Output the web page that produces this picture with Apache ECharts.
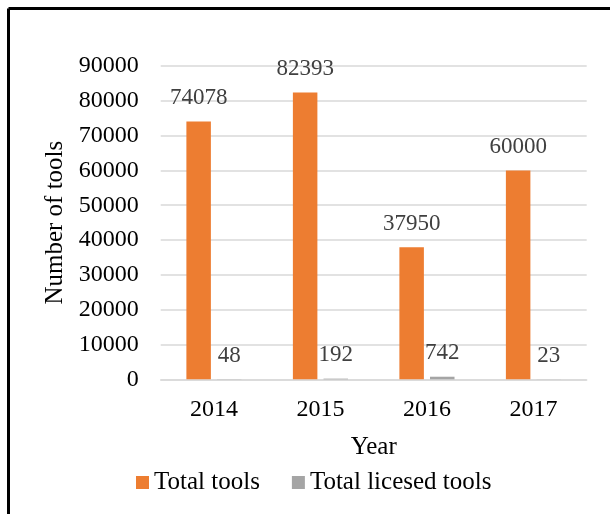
<!DOCTYPE html>
<html>
<head>
<meta charset="utf-8">
<script src="https://cdn.jsdelivr.net/npm/echarts@6/dist/echarts.min.js"></script>
<style>
html,body{margin:0;padding:0;background:#fff;}
#chart{width:610px;height:514px;}
</style>
</head>
<body>
<div id="chart"></div>
<script>
const categories = ['2014', '2015', '2016', '2017'];
const totalTools = [74078, 82393, 37950, 60000];
const totalLicensedTools = [48, 192, 742, 23];
const seriesNames = ['Total tools', 'Total licesed tools'];
const yTicks = { min: 0, max: 90000, interval: 10000 };

const FONT = '"Liberation Serif", "Times New Roman", serif';
const chart = echarts.init(document.getElementById('chart'), null, { renderer: 'canvas' });

const labelStyle = {
  show: true,
  position: 'top',
  distance: 12,
  fontFamily: FONT,
  fontSize: 23,
  color: '#404040'
};

chart.setOption({
  animation: false,
  backgroundColor: '#fff',
  grid: { left: 160.7, right: 23.3, top: 66, bottom: 134.7 },
  legend: {
    left: 136,
    top: 470,
    padding: 0,
    itemWidth: 13,
    itemHeight: 13,
    itemGap: 32,
    icon: 'rect',
    textStyle: { fontFamily: FONT, fontSize: 25, color: '#000' },
    data: seriesNames
  },
  xAxis: {
    type: 'category',
    data: categories,
    name: 'Year',
    nameLocation: 'middle',
    nameGap: 56,
    nameTextStyle: { fontFamily: FONT, fontSize: 25, color: '#000' },
    axisLine: { show: true, lineStyle: { color: '#d9d9d9', width: 1.5 } },
    axisTick: { show: false },
    axisLabel: { fontFamily: FONT, fontSize: 24, color: '#000', margin: 18 }
  },
  yAxis: {
    type: 'value',
    min: yTicks.min,
    max: yTicks.max,
    interval: yTicks.interval,
    name: 'Number of tools',
    nameLocation: 'middle',
    nameGap: 90,
    nameRotate: 90,
    nameTextStyle: { fontFamily: FONT, fontSize: 25, color: '#000' },
    axisLine: { show: false },
    axisTick: { show: false },
    splitLine: { lineStyle: { color: '#d9d9d9', width: 1.5 } },
    axisLabel: { fontFamily: FONT, fontSize: 24, color: '#000', margin: 22, formatter: v => String(v) }
  },
  series: [
    {
      name: seriesNames[0],
      type: 'bar',
      data: totalTools,
      barWidth: 24.5,
      barGap: '25%',
      itemStyle: { color: '#ED7D31' },
      label: labelStyle
    },
    {
      name: seriesNames[1],
      type: 'bar',
      data: totalLicensedTools,
      barWidth: 24.5,
      barGap: '25%',
      itemStyle: { color: '#A5A5A5' },
      label: labelStyle
    }
  ],
  graphic: [
    { type: 'line', shape: { x1: 8.5, y1: 8.5, x2: 610, y2: 8.5 }, style: { stroke: '#000', lineWidth: 3 } },
    { type: 'line', shape: { x1: 8.5, y1: 8.5, x2: 8.5, y2: 514 }, style: { stroke: '#000', lineWidth: 3 } }
  ]
});
</script>
</body>
</html>
